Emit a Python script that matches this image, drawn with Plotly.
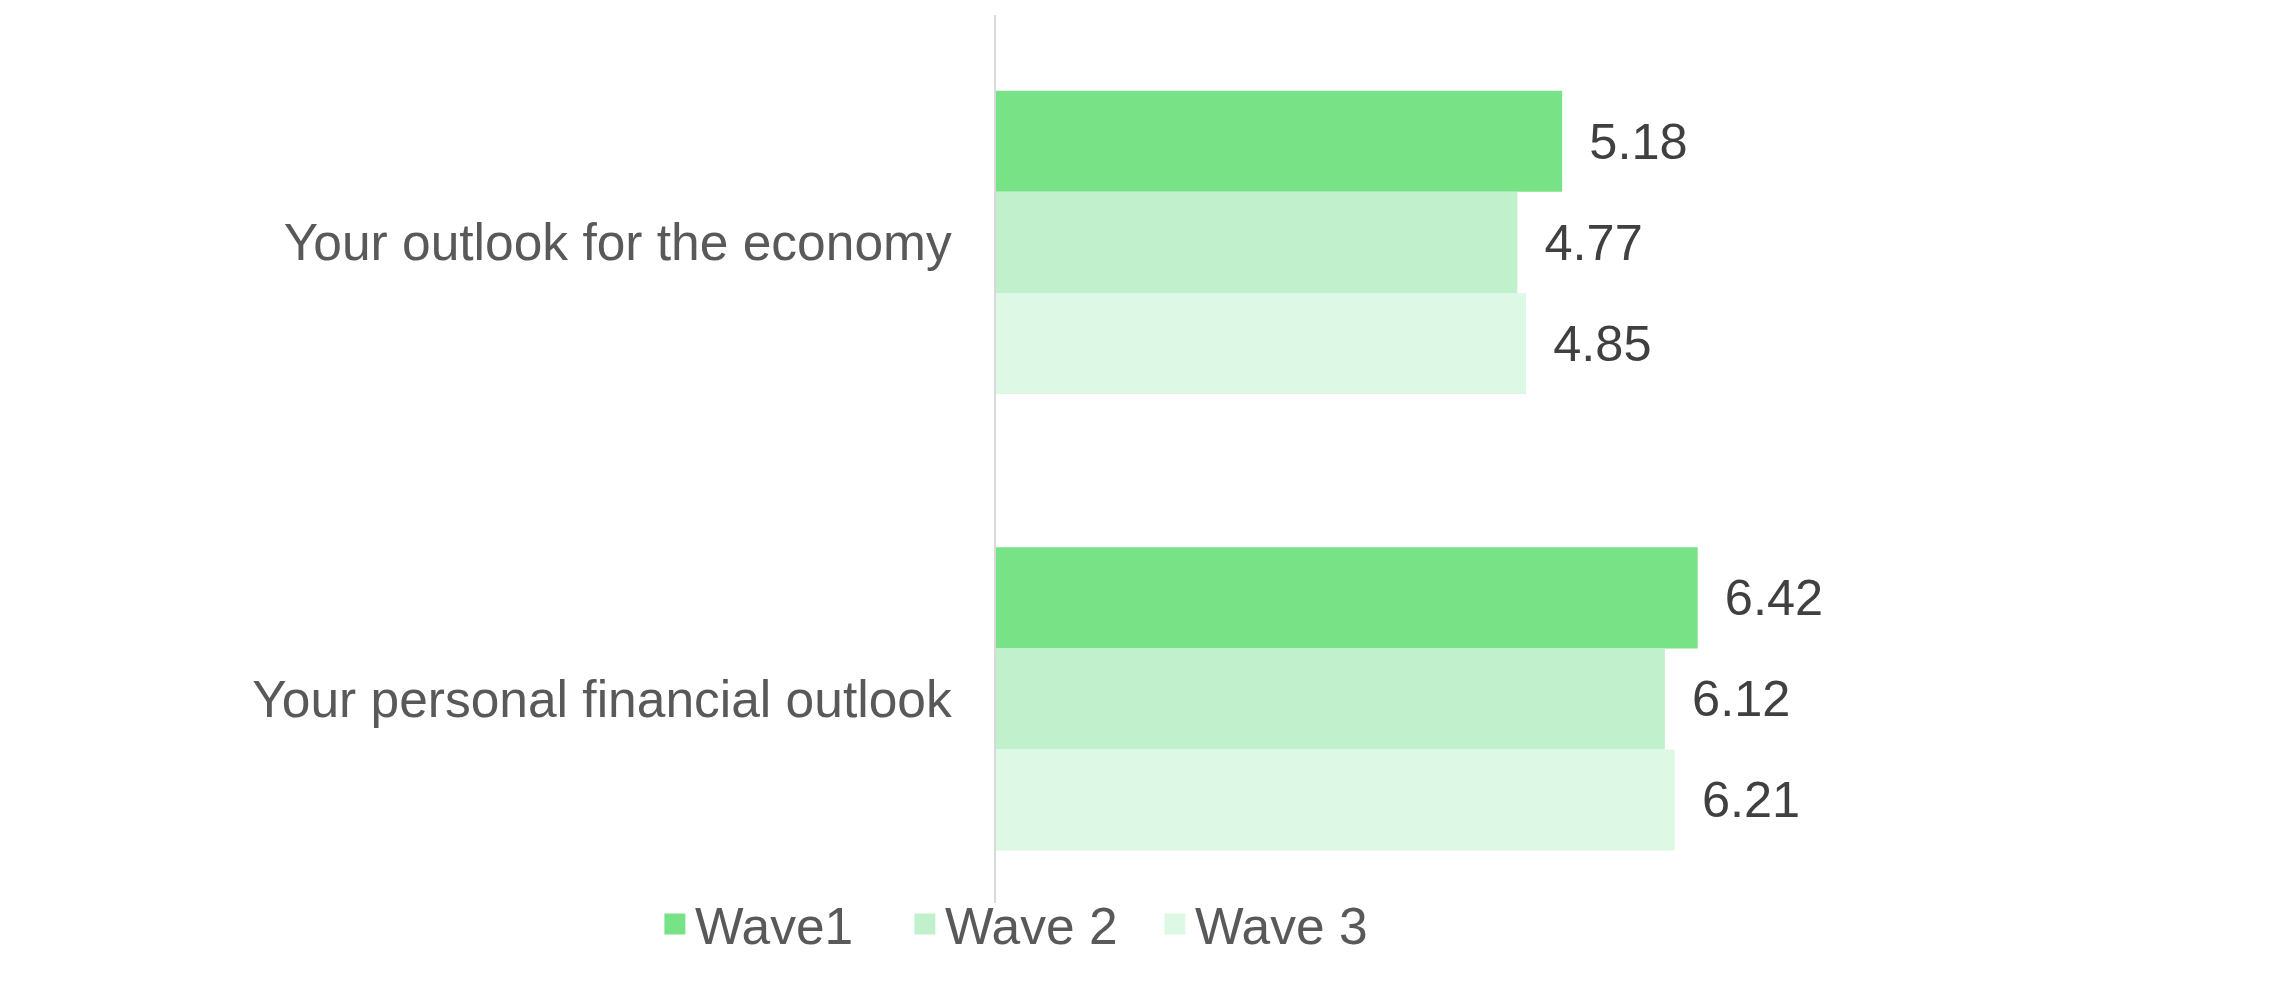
import plotly.graph_objects as go

categories = ["Your outlook for the economy", "Your personal financial outlook"]
series_names = ["Wave1", "Wave 2", "Wave 3"]
wave1 = [5.18, 6.42]
wave2 = [4.77, 6.12]
wave3 = [4.85, 6.21]
colors = ["#78E386", "#C0F1CC", "#DEF8E6"]

W, H = 2270, 988
L, R, T, B = 996, 181, 15, 85
FONT = "Liberation Sans, Arial"

fig = go.Figure()
for name, vals, col in zip(series_names, [wave1, wave2, wave3], colors):
    fig.add_trace(go.Bar(
        y=categories, x=vals, name=name, orientation="h",
        marker=dict(color=col, line=dict(width=0)),
        text=[f"{v:.2f}" for v in vals],
        texttemplate="\u00a0\u2009%{text}",
        textposition="outside",
        cliponaxis=False,
        showlegend=False,
        legendgroup=name,
        textfont=dict(family=FONT, size=50.5, color="#404040"),
    ))

# legend entries with larger square swatches
for name, col in zip(series_names, colors):
    fig.add_trace(go.Scatter(
        x=[None], y=[None], mode="markers", name=name, legendgroup=name,
        marker=dict(symbol="square", size=16, color=col, line=dict(color=col, width=5)),
        showlegend=True, hoverinfo="skip",
    ))

fig.update_layout(
    width=W, height=H,
    margin=dict(l=L, r=R, t=T, b=B, pad=0),
    paper_bgcolor="white", plot_bgcolor="white",
    barmode="group", bargap=0.336, bargroupgap=0,
    font=dict(family=FONT, size=50, color="#595959"),
    showlegend=True,
    legend=dict(orientation="h", x=0.031, xanchor="center", y=-0.0236, yanchor="middle",
                font=dict(size=51.5, color="#595959"), traceorder="normal",
                itemsizing="trace", entrywidth=205, entrywidthmode="pixels",
                bgcolor="rgba(0,0,0,0)"),
    xaxis=dict(range=[0, 10], visible=False, showgrid=False, zeroline=False),
    yaxis=dict(categoryorder="array", categoryarray=categories,
               range=[1.447, -0.498], showline=True, linecolor="#D9D9D9", linewidth=2,
               showgrid=False, zeroline=False, ticks="", ticklabelstandoff=32,
               tickfont=dict(size=51.5, color="#595959")),
)

fig.write_html("out.html")
